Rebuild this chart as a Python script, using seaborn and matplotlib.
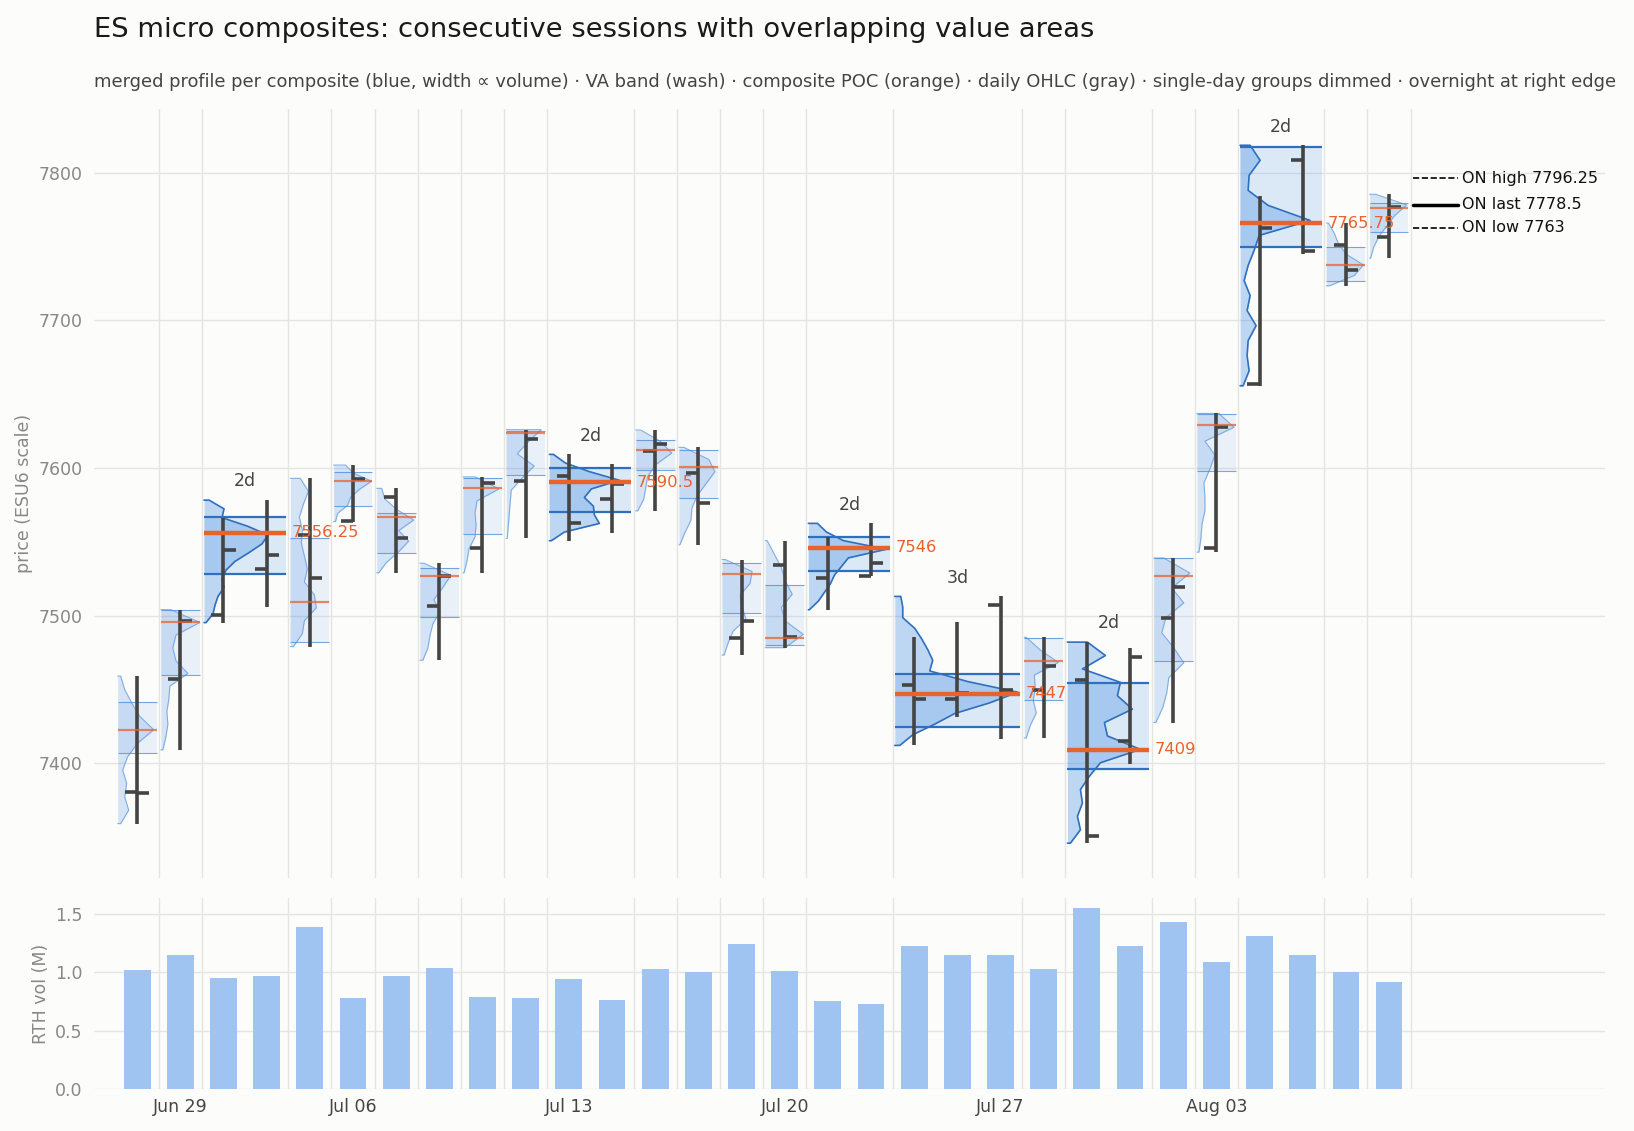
import numpy as np
import pandas as pd
import matplotlib
matplotlib.use("Agg")
import matplotlib.pyplot as plt
import seaborn as sns

# RTH sessions (Jul 03 holiday skipped)
sessions = pd.bdate_range("2026-06-26", "2026-08-07")
sessions = sessions[sessions != pd.Timestamp("2026-07-03")]

# daily OHLC
open_ = [7380.5, 7457.25, 7500.25, 7531.75, 7554.5, 7564, 7580.5, 7506.75, 7546, 7591.25,
         7594.5, 7578.75, 7611.25, 7596.5, 7484.5, 7534, 7525.5, 7527, 7453.25, 7443.25,
         7507.25, 7449.75, 7456.5, 7414.75, 7498.5, 7546, 7657, 7808.5, 7751.25, 7756.5]
high = [7459, 7504, 7566, 7578.25, 7593, 7602, 7586.25, 7535.5, 7594, 7626,
        7609.25, 7602.75, 7625.75, 7614, 7538, 7550.75, 7553, 7562.5, 7485.25, 7495.5,
        7513, 7485.25, 7482, 7478, 7539, 7637, 7784.5, 7818.75, 7766, 7785.5]
low = [7359, 7409, 7495.25, 7505.5, 7479, 7563.75, 7529, 7469.75, 7529, 7552.25,
       7550.75, 7556.25, 7571, 7548, 7473.25, 7478.25, 7504, 7526.5, 7412, 7431.5,
       7416.25, 7417, 7345.75, 7399.5, 7427.5, 7543, 7655.75, 7745.25, 7723.5, 7742.25]
close = [7380, 7496.5, 7544.5, 7541, 7525.75, 7592.75, 7552.75, 7526.5, 7589.75, 7619.5,
         7562.75, 7589.25, 7616.25, 7576.25, 7496.5, 7485.75, 7545.5, 7535.75, 7443.25, 7447.5,
         7449.25, 7466, 7350.5, 7471.75, 7519.5, 7628, 7762.5, 7747, 7734, 7777]

# RTH volume, millions of contracts
rth_vol = [1.02, 1.15, 0.95, 0.97, 1.39, 0.78, 0.97, 1.04, 0.79, 0.78,
           0.94, 0.76, 1.03, 1.00, 1.24, 1.01, 0.75, 0.73, 1.22, 1.15,
           1.15, 1.03, 1.55, 1.22, 1.43, 1.09, 1.31, 1.15, 1.00, 0.92]

# composite groups (first session, number of sessions)
grp_start = [0, 1, 2, 4, 5, 6, 7, 8, 9, 10, 12, 13, 14, 15, 16, 18, 21, 22, 24, 25, 26, 28, 29]
grp_len = [1, 1, 2, 1, 1, 1, 1, 1, 1, 2, 1, 1, 1, 1, 2, 3, 1, 2, 1, 1, 2, 1, 1]
grp_vah = [7441.75, 7503.5, 7566.5, 7552.25, 7597.5, 7569.5, 7532.25, 7593.25, 7625.25, 7600.25,
           7619, 7612.25, 7535.75, 7521, 7553.5, 7460.25, 7485, 7454.5, 7539, 7636.75,
           7817.75, 7750, 7779.5]
grp_val = [7407, 7459.75, 7528.5, 7482, 7574.25, 7542.5, 7499, 7555.25, 7595.5, 7570,
           7599, 7579.75, 7502, 7480, 7530.5, 7424.5, 7442.5, 7396, 7469.5, 7598.25,
           7749.5, 7726.5, 7760]
grp_poc = [7422.25, 7495.5, 7556.25, 7509.5, 7591.5, 7566.5, 7526.5, 7586.75, 7623.5, 7590.5,
           7612.5, 7601, 7528.5, 7484.5, 7546, 7447, 7469.5, 7409, 7526.5, 7629,
           7765.75, 7737.5, 7776.5]

# merged volume profile per group, low -> high price (relative volume)
prof_vol = [
    [3, 11, 7, 9, 5, 10, 20, 36, 22, 14, 7, 3],
    [2, 5, 7, 6, 8, 9, 27, 15, 12, 15, 39, 10],
    [2, 9, 11, 14, 20, 18, 22, 31, 45, 58, 64, 44, 18, 20, 5],
    [3, 12, 14, 26, 24, 14, 17, 14, 11, 12, 9, 13, 18, 10],
    [2, 4, 14, 17, 26, 38, 20, 12],
    [2, 10, 22, 32, 22, 37, 20, 8, 5],
    [3, 8, 10, 13, 20, 14, 23, 31, 4],
    [1, 4, 6, 12, 13, 12, 14, 36, 12],
    [1, 2, 3, 4, 5, 16, 28, 11, 22, 35],
    [2, 15, 50, 45, 44, 35, 42, 70, 40, 16, 4],
    [2, 8, 10, 12, 20, 36, 25, 5],
    [1, 6, 12, 13, 18, 27, 36, 30, 5],
    [2, 6, 11, 24, 20, 18, 28, 30, 3],
    [20, 38, 20, 16, 27, 20, 16, 9, 2],
    [1, 10, 16, 22, 26, 33, 40, 78, 35, 18, 9],
    [5, 18, 40, 60, 95, 123, 73, 35, 38, 33, 27, 20, 8, 8, 6],
    [2, 6, 12, 9, 11, 10, 34, 16, 2],
    [3, 13, 10, 15, 13, 22, 33, 73, 40, 37, 65, 50, 53, 15, 38, 20],
    [2, 9, 13, 15, 30, 20, 8, 12, 30, 18, 36, 10],
    [2, 4, 5, 8, 8, 7, 13, 18, 8, 37, 22],
    [3, 9, 7, 8, 16, 7, 10, 4, 8, 14, 19, 70, 28, 8, 9, 20, 10],
    [3, 28, 37, 20, 12, 8, 2],
    [1, 4, 9, 17, 25, 37, 6],
]

# overnight session
on_names = ["ON high", "ON last", "ON low"]
on_vals = [7796.25, 7778.5, 7763]

BG = "#fcfcfb"
GRID = "#e4e4e1"
BLUE = "#4a90e2"
LINE_BLUE = "#2f6fc0"
ORANGE = "#e8622c"
OHLC = "#444444"
VOL_TO_WIDTH = 1 / 43.2

sns.set_theme(style="whitegrid", rc={
    "figure.facecolor": BG, "axes.facecolor": BG, "grid.color": GRID,
    "grid.linewidth": 1.0, "axes.edgecolor": BG,
})
plt.rcParams["font.family"] = ["DejaVu Sans"]

fig = plt.figure(figsize=(16.34, 11.31), dpi=100)
ax = fig.add_axes([0.0575, 0.2235, 0.9247, 0.6797])
axv = fig.add_axes([0.0575, 0.0369, 0.9247, 0.1689])

n_days = len(sessions)
xs_day = np.arange(n_days)

# --- top panel: profiles
for g in range(len(grp_start)):
    s, n = grp_start[g], grp_len[g]
    comp = n > 1
    x0 = s - 0.45
    x1 = s + n - 1 + 0.45
    lo = min(low[s:s + n])
    hi = max(high[s:s + n])
    vol = np.array(prof_vol[g], dtype=float)
    lev = np.linspace(lo, hi, len(vol))
    xs = x0 + vol * VOL_TO_WIDTH

    ax.fill_between([x0, x1], grp_val[g], grp_vah[g], color=BLUE,
                    alpha=0.18 if comp else 0.1, lw=0, zorder=1)
    ax.fill_betweenx(lev, x0, xs, color=BLUE, alpha=0.35 if comp else 0.22, lw=0, zorder=2)
    ax.plot(np.r_[x0, xs, x0], np.r_[lo, lev, hi],
            color=LINE_BLUE if comp else "#6fa3e0", lw=1.2 if comp else 0.8,
            alpha=1 if comp else 0.85, zorder=3)
    ax.hlines([grp_val[g], grp_vah[g]], x0, x1, color=LINE_BLUE if comp else "#4a8ad8",
              lw=1.6 if comp else 0.8, alpha=1 if comp else 0.75, zorder=4)
    ax.hlines(grp_poc[g], x0, x1, color=ORANGE, lw=3.2 if comp else 1.6,
              alpha=1 if comp else 0.75, zorder=7)
    if comp:
        ax.annotate(f"{grp_poc[g]:g}", (x1, grp_poc[g]), xytext=(4, 0),
                    textcoords="offset points", ha="left", va="center",
                    color=ORANGE, fontsize=11.8, zorder=8)
        ax.annotate(f"{n}d", (s + (n - 1) / 2, hi), xytext=(0, 7),
                    textcoords="offset points", ha="center", va="bottom",
                    color="#444444", fontsize=12.5, zorder=8)

# --- daily OHLC
ax.vlines(xs_day, low, high, color=OHLC, lw=2.6, zorder=6)
ax.hlines(open_, xs_day - 0.28, xs_day, color=OHLC, lw=2.6, zorder=6)
ax.hlines(close, xs_day, xs_day + 0.28, color=OHLC, lw=2.6, zorder=6)

# --- overnight at right edge
for name, v in zip(on_names, on_vals):
    solid = name == "ON last"
    ax.plot([n_days - 0.45, n_days + 0.6], [v, v], color="black",
            ls="-" if solid else "--", lw=2.5 if solid else 1.2, zorder=6)
    ax.text(n_days + 0.7, v, f"{name} {v:g}", va="center", ha="left",
            fontsize=11.5, color="#111111")

# --- bottom panel: RTH volume
sns.barplot(x=xs_day, y=rth_vol, native_scale=True, width=0.62, color="#a0c4f2",
            saturation=1, errorbar=None, linewidth=0, ax=axv, zorder=2)

# group separators
for s, n in zip(grp_start, grp_len):
    for a in (ax, axv):
        a.axvline(s + n - 0.5, color=GRID, lw=1.0, zorder=0)

for a in (ax, axv):
    a.set_xlim(-1, 34)
    a.xaxis.grid(False)
    a.yaxis.grid(True)
    sns.despine(ax=a, left=True, bottom=True)

ax.set_ylim(7322, 7843)
ax.set_yticks([7400, 7500, 7600, 7700, 7800])
ax.set_xticks([])
ax.tick_params(axis="y", length=0, pad=8, labelsize=12.5, labelcolor="#888888")
ax.set_ylabel("price (ESU6 scale)", fontsize=12.5, color="#888888")

mondays = [i for i, d in enumerate(sessions) if d.weekday() == 0]
axv.set_ylim(0, 1.632)
axv.set_yticks([0, 0.5, 1.0, 1.5])
axv.set_yticklabels(["0.0", "0.5", "1.0", "1.5"])
axv.set_xticks(mondays)
axv.set_xticklabels([sessions[i].strftime("%b %d") for i in mondays])
axv.tick_params(axis="y", length=0, pad=8, labelsize=12.5, labelcolor="#888888")
axv.tick_params(axis="x", length=0, pad=6, labelsize=12.5, labelcolor="#444444")
axv.set_ylabel("RTH vol (M)", fontsize=12.5, color="#888888")
axv.set_xlabel("")

fig.text(0.0575, 0.9735, "ES micro composites: consecutive sessions with overlapping value areas",
         fontsize=19.7, va="center", ha="left", color="#1a1a1a")
fig.text(0.0575, 0.9275,
         "merged profile per composite (blue, width \u221d volume) \u00b7 VA band (wash) \u00b7 "
         "composite POC (orange) \u00b7 daily OHLC (gray) \u00b7 single-day groups dimmed \u00b7 "
         "overnight at right edge",
         fontsize=12.9, va="center", ha="left", color="#444444")

fig.savefig("out.png", dpi=100, facecolor=BG)
